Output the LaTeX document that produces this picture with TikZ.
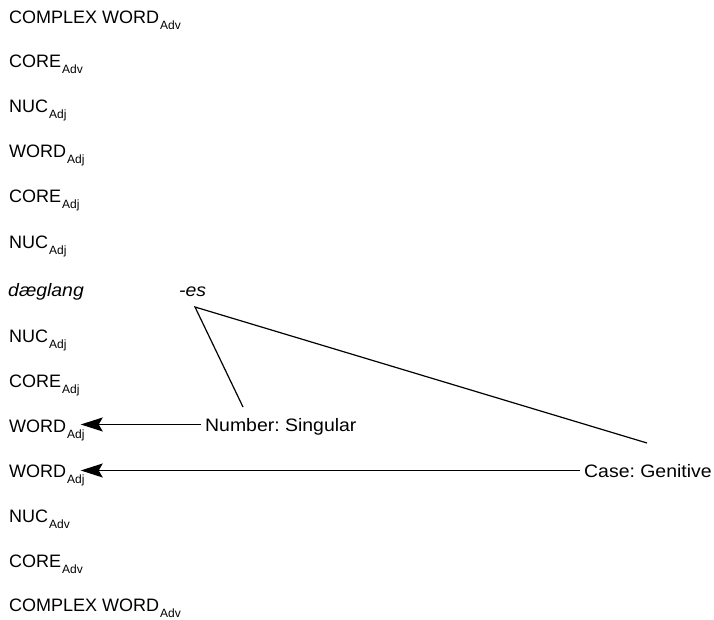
\documentclass[tikz,border=0pt]{standalone}
\usepackage{fontspec}
\setmainfont{Liberation Sans}
\newfontfamily\featfont[FakeStretch=1.08]{Liberation Sans}
\usetikzlibrary{arrows.meta}
\newcommand{\cat}[2]{#1\kern1pt\raisebox{-6pt}{\fontsize{12}{12}\selectfont #2}}
\frenchspacing

\begin{document}
\begin{tikzpicture}[x=1pt,y=-1pt,
  row/.style={anchor=base west,inner sep=0pt,font=\fontsize{18}{20}\selectfont},
  feat/.style={anchor=base west,inner ysep=0pt,inner xsep=4pt,text depth=0pt,font=\fontsize{18}{20}\selectfont\featfont},
  leg/.style={line width=1.2pt},
  arr/.style={line width=1.2pt,-{Stealth[length=22pt,width=14pt,inset=4pt]},shorten >=-4pt}]
\useasboundingbox (0,0) rectangle (714,620);
\node[row] (cw1) at (9,24) {\cat{COMPLEX WORD}{Adv}};
\node[row] (co1) at (9,68) {\cat{CORE}{Adv}};
\node[row] (nu1) at (9,113) {\cat{NUC}{Adj}};
\node[row] (w1) at (9,158) {\cat{WORD}{Adj}};
\node[row] (co2) at (9,203) {\cat{CORE}{Adj}};
\node[row] (nu2) at (9,248) {\cat{NUC}{Adj}};
\node[row] (stem) at (8,296) {\featfont\itshape dæglang};
\node[row] (es) at (179,296) {\featfont\itshape -es};
\node[row] (nu3) at (9,342) {\cat{NUC}{Adj}};
\node[row] (co3) at (9,387) {\cat{CORE}{Adj}};
\node[row] (w2) at (9,432) {\cat{WORD}{Adj}};
\node[row] (w3) at (9,477) {\cat{WORD}{Adj}};
\node[row] (nu4) at (9,522) {\cat{NUC}{Adv}};
\node[row] (co4) at (9,567) {\cat{CORE}{Adv}};
\node[row] (cw2) at (9,611) {\cat{COMPLEX WORD}{Adv}};

\node[feat] (num) at (201,431) {Number: Singular};
\node[feat] (case) at (580,477) {Case: Genitive};

% feature lines from the suffix
\coordinate (apex) at (195,307);
\coordinate (numtop) at (243,407);
\coordinate (casetop) at (647,443);
\draw[leg] (numtop) -- (apex) -- (casetop);

\draw[arr] (num.west) -- (num.west -| w2.east);
\draw[arr] (case.west) -- (case.west -| w3.east);
\end{tikzpicture}
\end{document}
